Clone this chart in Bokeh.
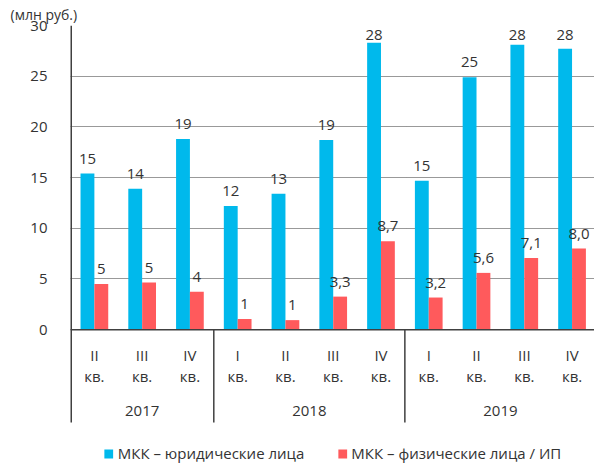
import numpy as np
from bokeh.plotting import figure
from bokeh.models import FixedTicker, Span, Legend, LegendItem, Range1d
from bokeh.core.properties import value
from bokeh.embed import file_html
from bokeh.resources import INLINE

# ---- data ----
years = ["2017", "2018", "2019"]
quarters = [["II", "III", "IV"], ["I", "II", "III", "IV"], ["I", "II", "III", "IV"]]
legal_values = [15.4, 13.9, 18.8, 12.2, 13.4, 18.7, 28.3, 14.7, 24.9, 28.1, 27.7]
legal_labels = ["15", "14", "19", "12", "13", "19", "28", "15", "25", "28", "28"]
indiv_values = [4.5, 4.65, 3.75, 1.04, 0.94, 3.26, 8.72, 3.17, 5.6, 7.07, 8.0]
indiv_labels = ["5", "5", "4", "1", "1", "3,3", "8,7", "3,2", "5,6", "7,1", "8,0"]
y_ticks = [0, 5, 10, 15, 20, 25, 30]
series_names = ["МКК – юридические лица", "МКК – физические лица / ИП"]
unit_title = "(млн руб.)"

# ---- styling ----
FONT = "Open Sans"
BLUE = "#00B9EC"
RED = "#FF5A5C"
TXT = "#333333"
AX = "#404040"
FS = "15px"

quarter_flat = [q for qs in quarters for q in qs]
n = len(quarter_flat)
x = np.arange(n)
counts = [len(qs) for qs in quarters]
ends = np.cumsum(counts)
starts = ends - np.array(counts)
group_centers = [float((s + e - 1) / 2) for s, e in zip(starts, ends)]
separators = [float(e - 0.5) for e in ends[:-1]]

x_start, x_end = -0.5, 10.47
y_bottom, y_top = -13.2, 30
y_cut = -9.15   # where the category separators end

p = figure(width=594, height=463, x_range=Range1d(x_start, x_end), y_range=Range1d(y_bottom, y_top),
           output_backend="svg", toolbar_location=None,
           min_border_left=70, min_border_right=0, min_border_top=0, min_border_bottom=0)
p.outline_line_color = None
p.background_fill_color = "white"

p.title.text = unit_title
p.title.align = "left"
p.title.offset = -60
p.title.text_font = FONT
p.title.text_font_size = "14px"
p.title.text_font_style = "normal"
p.title.text_color = TXT
p.title.standoff = 4

p.xaxis.visible = False
p.xgrid.grid_line_color = None

p.yaxis.ticker = FixedTicker(ticks=y_ticks)
p.yaxis.major_label_text_font = FONT
p.yaxis.major_label_text_font_size = FS
p.yaxis.major_label_text_color = TXT
p.yaxis.major_tick_line_color = None
p.yaxis.minor_tick_line_color = None
p.yaxis.axis_line_color = None
p.yaxis.major_label_standoff = 17

p.ygrid.ticker = FixedTicker(ticks=y_ticks)
p.ygrid.grid_line_color = "#333333"
p.ygrid.grid_line_dash = "1 1"
p.ygrid.grid_line_width = 1

bw = 0.29
r1 = p.vbar(x=x - bw / 2, top=legal_values, width=bw, fill_color=BLUE, line_color=None)
r2 = p.vbar(x=x + bw / 2, top=indiv_values, width=bw, fill_color=RED, line_color=None)

p.add_layout(Span(location=0, dimension="width", line_color=AX, line_width=1.5))
# left axis line and group separators
p.segment(x0=[x_start], y0=[y_cut], x1=[x_start], y1=[y_top], line_color=AX, line_width=3)
p.segment(x0=separators, y0=[0] * len(separators), x1=separators, y1=[y_cut] * len(separators),
          line_color=AX, line_width=1.5)

top_cap = 27.6
p.text(x=x - bw / 2, y=np.minimum(legal_values, top_cap), text=legal_labels, text_align="center",
       text_baseline="alphabetic", y_offset=-15, text_font=value(FONT), text_font_size=FS, text_color=TXT)
p.text(x=x + bw / 2, y=np.minimum(indiv_values, top_cap), text=indiv_labels, text_align="center",
       text_baseline="alphabetic", y_offset=-15, text_font=value(FONT), text_font_size=FS, text_color=TXT)

p.text(x=x, y=[-2.45] * n, text=quarter_flat, text_align="center", text_baseline="middle",
       text_font=value(FONT), text_font_size=FS, text_color=TXT)
p.text(x=x, y=[-4.6] * n, text=["кв."] * n, text_align="center", text_baseline="middle",
       text_font=value(FONT), text_font_size=FS, text_color=TXT)
p.text(x=group_centers, y=[-8.0] * len(years), text=years, text_align="center", text_baseline="middle",
       text_font=value(FONT), text_font_size=FS, text_color=TXT)

legend = Legend(items=[LegendItem(label=series_names[0], renderers=[r1]),
                       LegendItem(label=series_names[1], renderers=[r2])],
                orientation="horizontal", location="bottom_center")
legend.label_text_font = FONT
legend.label_text_font_size = FS
legend.label_text_color = TXT
legend.glyph_width = 11
legend.glyph_height = 11
legend.label_standoff = 4
legend.spacing = 32
legend.padding = 2
legend.margin = 0
legend.border_line_color = None
legend.background_fill_alpha = 0
p.add_layout(legend)

open("out.html", "w").write(file_html(p, INLINE))
